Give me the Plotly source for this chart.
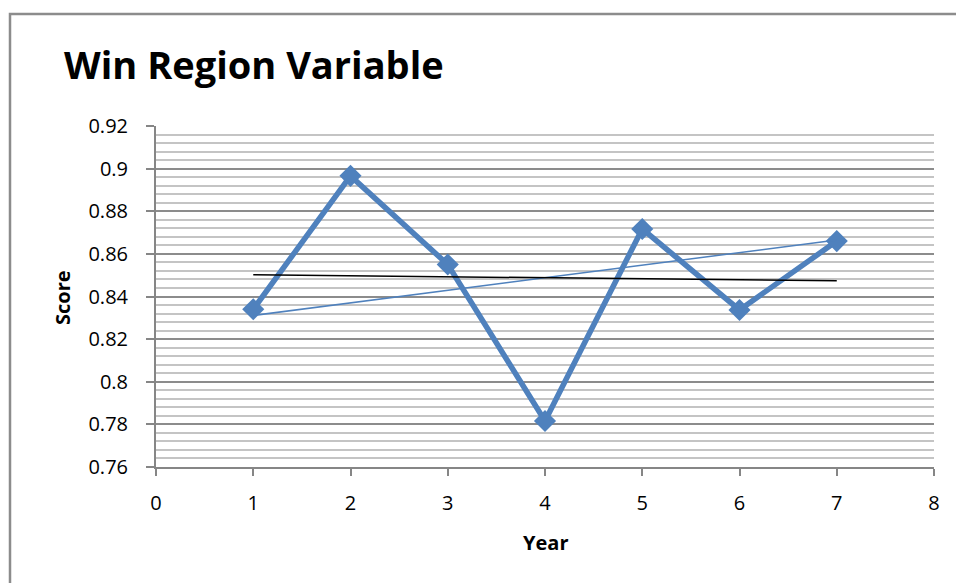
import plotly.graph_objects as go

years = [1, 2, 3, 4, 5, 6, 7]
scores = [0.834, 0.8966, 0.855, 0.7816, 0.8717, 0.8337, 0.866]
blue_line_x = [1, 7]
blue_line_y = [0.8311, 0.8665]
trend_x = [1, 7]
trend_y = [0.8502, 0.8474]

BLUE = "#4F81BD"
FONT = "Open Sans"

fig = go.Figure()
fig.add_trace(go.Scatter(x=years, y=scores, mode="lines+markers",
                         line=dict(color=BLUE, width=5.5),
                         marker=dict(symbol="diamond", size=17, color=BLUE),
                         showlegend=False))
fig.add_trace(go.Scatter(x=blue_line_x, y=blue_line_y, mode="lines",
                         line=dict(color=BLUE, width=1.5), showlegend=False))
fig.add_trace(go.Scatter(x=trend_x, y=trend_y, mode="lines",
                         line=dict(color="black", width=1.5), showlegend=False))

fig.update_layout(
    width=956, height=583,
    margin=dict(l=156, r=22, t=126, b=116),
    paper_bgcolor="white", plot_bgcolor="white",
    font=dict(family=FONT, size=20, color="black"),
    xaxis=dict(range=[0, 8], dtick=1, tick0=0, showgrid=False, zeroline=False,
               showline=True, linecolor="#868686", linewidth=2,
               ticks="outside", ticklen=7, tickcolor="#868686", tickwidth=2,
               tickfont=dict(size=20), ticklabelstandoff=10),
    yaxis=dict(range=[0.76, 0.92], dtick=0.02, tick0=0.76, showgrid=True,
               gridcolor="#8c8c8c", gridwidth=1.5, zeroline=False,
               showline=True, linecolor="#868686", linewidth=2,
               ticks="outside", ticklen=8, tickcolor="#868686", tickwidth=2,
               tickfont=dict(size=20), tickformat="~g", ticklabelstandoff=14,
               minor=dict(dtick=0.004, tick0=0.76, showgrid=True,
                          gridcolor="#c4c4c4", gridwidth=1.5)),
    shapes=[dict(type="rect", xref="paper", yref="paper",
                 x0=(10 - 156) / 778, x1=(962 - 156) / 778,
                 y0=(467 - 600) / 341, y1=(467 - 14) / 341,
                 line=dict(color="#8c8c8c", width=2.5), fillcolor="rgba(0,0,0,0)",
                 layer="below")],
    annotations=[
        dict(text="<b>Win Region Variable</b>", xref="paper", yref="paper",
             x=(62 - 156) / 778, y=(467 - 64) / 341, xanchor="left", yanchor="middle",
             showarrow=False, font=dict(family=FONT, size=38, color="black")),
        dict(text="<b>Score</b>", xref="paper", yref="paper",
             x=(62 - 156) / 778, y=(467 - 298) / 341, xanchor="center", yanchor="middle",
             textangle=-90, showarrow=False, font=dict(family=FONT, size=20)),
        dict(text="<b>Year</b>", xref="paper", yref="paper",
             x=(545 - 156) / 778, y=(467 - 542) / 341, xanchor="center", yanchor="middle",
             showarrow=False, font=dict(family=FONT, size=20)),
    ],
)

fig.write_html("out.html", config={"displayModeBar": False},
               post_script="document.body.style.margin='0';document.body.style.overflow='hidden';")
